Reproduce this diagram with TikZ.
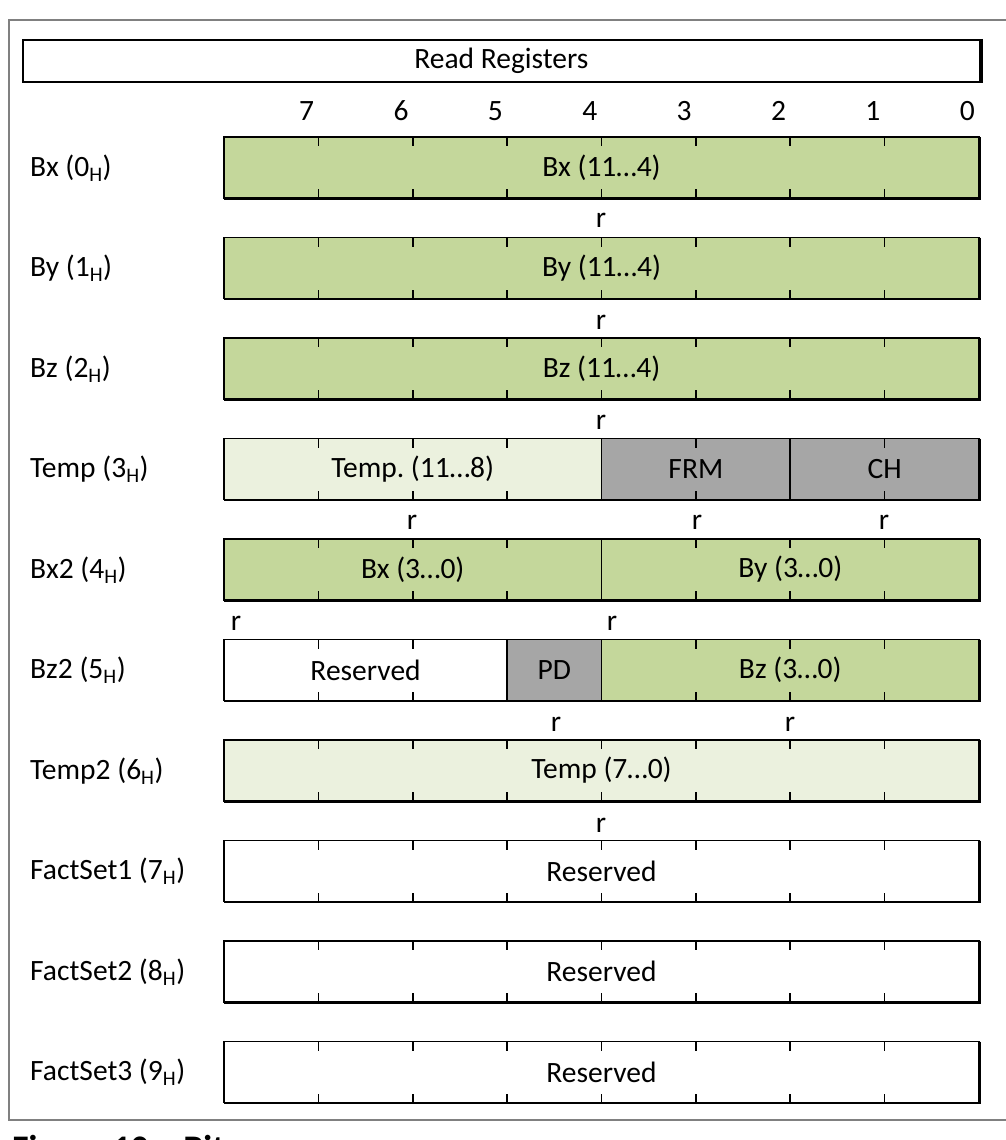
\documentclass[tikz,border=0pt]{standalone}
\usepackage{fontspec}
\setmainfont{Carlito}
\frenchspacing
\definecolor{dgreen}{RGB}{196,215,155}
\definecolor{lgreen}{RGB}{235,241,222}
\definecolor{fgray}{RGB}{166,166,166}
\definecolor{framegray}{RGB}{128,128,128}
\newcommand\cw{94.375}
\newcommand\fld[6]{% name, i0, i1, top, fill, text
  \node[fieldbox, fill=#5, minimum width={(#3-#2)*\cw*1pt}] (#1) at ({224+#2*\cw}, #4) {#6};}
\newcommand\ticks[1]{%
  \foreach \i in {1,...,7}{
    \draw[tick] ({224+\i*\cw}, #1) -- ++(0,9);
    \draw[tick] ({224+\i*\cw}, #1+61) -- ++(0,-9);
  }
  \draw[regline] (224,#1) rectangle (979,#1+61);
  \draw[regline] (979.6,#1) -- (979.6,#1+61.6) -- (224,#1+61.6);
}
\begin{document}
\begin{tikzpicture}[x=1pt,y=-1pt,
  font=\fontsize{29.5}{34}\selectfont\frenchspacing,
  fieldbox/.style={draw=black, line width=1.6pt, inner sep=0pt, outer sep=0pt,
    anchor=north west, minimum height=61pt},
  tick/.style={line width=1.6pt, black},
  regline/.style={line width=1.8pt, black},
  lbl/.style={anchor=west, inner sep=0pt},
  bitnum/.style={anchor=east, inner sep=0pt},
  rlbl/.style={inner sep=0pt},
  ]
\useasboundingbox (0,0) rectangle (1006,1140);
\begin{scope}
\clip (0,0) rectangle (1006,1140);
% outer frame
\draw[framegray, line width=2.2pt] (1010,20) -- (9,20) -- (9,1120) -- (1010,1120);
% title box
\node[draw=black, line width=1.8pt, minimum width=957pt, minimum height=42pt,
  inner sep=0pt, anchor=north west] (title) at (22,39) {Read Registers};
\draw[regline] (title.north east) ++(0.8,0) -- ++(0,42.8) -- ++(-957.8,0);
% bit numbers
\foreach \b [count=\k from 1] in {7,6,5,4,3,2,1,0}
  \node[bitnum] (bit\b) at ({224+\k*\cw-4}, 111) {\b};
% row labels
\foreach \t/\n [count=\k from 0] in {Bx/0,By/1,Bz/2,Temp/3,Bx2/4,Bz2/5,Temp2/6,FactSet1/7,FactSet2/8,FactSet3/9}
  \node[lbl] (lab\k) at (30, {137+100.5*\k+31}) {\t\ (\n\textsubscript{H})};
% row 0
\fld{bx}{0}{8}{137}{dgreen}{Bx (11…4)}
\ticks{137}
% row 1
\fld{by}{0}{8}{237.5}{dgreen}{By (11…4)}
\ticks{237.5}
% row 2
\fld{bz}{0}{8}{338}{dgreen}{Bz (11…4)}
\ticks{338}
% row 3
\fld{temp}{0}{4}{438.5}{lgreen}{Temp. (11…8)}
\fld{frm}{4}{6}{438.5}{fgray}{FRM}
\fld{ch}{6}{8}{438.5}{fgray}{CH}
\ticks{438.5}
% row 4
\fld{bxl}{0}{4}{539}{dgreen}{Bx (3…0)}
\fld{byl}{4}{8}{539}{dgreen}{By (3…0)}
\ticks{539}
% row 5
\fld{res5}{0}{3}{639.5}{white}{Reserved}
\fld{pd}{3}{4}{639.5}{fgray}{PD}
\fld{bzl}{4}{8}{639.5}{dgreen}{Bz (3…0)}
\ticks{639.5}
% row 6
\fld{templ}{0}{8}{740}{lgreen}{Temp (7…0)}
\ticks{740}
% rows 7-9
\fld{fs1}{0}{8}{840.5}{white}{Reserved}
\ticks{840.5}
\fld{fs2}{0}{8}{941}{white}{Reserved}
\ticks{941}
\fld{fs3}{0}{8}{1041.5}{white}{Reserved}
\ticks{1041.5}
% r labels
\node[rlbl] (r0) at (601,220) {r};
\node[rlbl] (r1) at (601,322) {r};
\node[rlbl] (r2) at (601,422) {r};
\node[rlbl] (r3a) at (412,522) {r};
\node[rlbl] (r3b) at (697,522) {r};
\node[rlbl] (r3c) at (884,522) {r};
\node[rlbl] (r4a) at (236,623) {r};
\node[rlbl] (r4b) at (612,623) {r};
\node[rlbl] (r5a) at (556,724) {r};
\node[rlbl] (r5b) at (790,724) {r};
\node[rlbl] (r6) at (601,825) {r};
% caption (cut off at the lower edge, as in the reference)
\node[anchor=base west, inner sep=0pt, font=\fontsize{36}{40}\selectfont\bfseries] (cap) at (12,1160) {Figure 10 – Bit};
\end{scope}
\end{tikzpicture}
\end{document}
